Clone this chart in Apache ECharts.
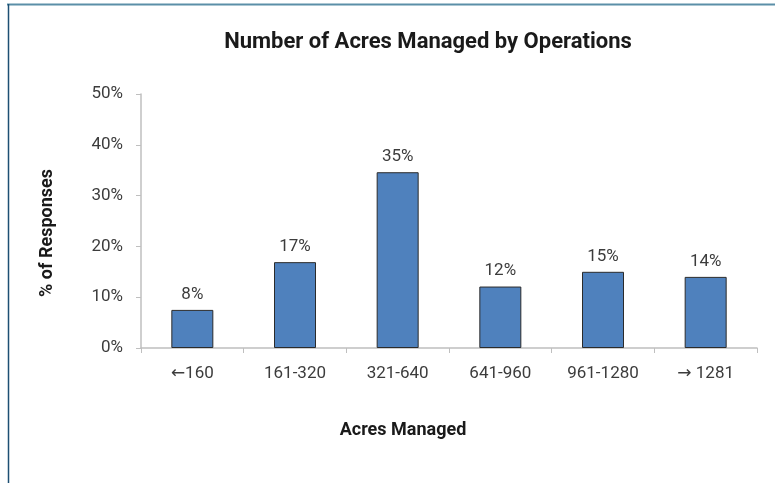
<!DOCTYPE html>
<html>
<head>
    <meta charset="utf-8" />
    <title></title>
    <script type="text/javascript" src="https://cdn.jsdelivr.net/npm/echarts@6/dist/echarts.min.js"></script>
    <style>
        html, body { margin: 0; padding: 0; background: #fff; }
        #con1 { width: 775px; height: 483px; }
    </style>
</head>
<body>
    <div id="con1"></div>
    <script type="text/javascript">
        // data
        var categories = ['\u2190160', '161-320', '321-640', '641-960', '961-1280', '\u2192 1281'];
        var responses = [7.5, 16.9, 34.6, 12.1, 15.0, 14.0];
        var yTicks = [0, 10, 20, 30, 40, 50];

        var myChart1 = echarts.init(document.getElementById('con1'));
        var font = 'Roboto, "DejaVu Sans", sans-serif';
        var option1 = {
            backgroundColor: '#fff',
            animation: false,
            title: {
                text: 'Number of Acres Managed by Operations',
                left: 423,
                top: 26,
                textAlign: 'center',
                textStyle: { fontSize: 22, fontWeight: 'bold', color: '#1a1a1a', fontFamily: font }
            },
            grid: { left: 141, right: 18, top: 94, bottom: 135 },
            xAxis: {
                type: 'category',
                data: categories,
                axisLine: { lineStyle: { color: '#bfbfbf', width: 1.5 } },
                axisTick: { show: true, length: 5, lineStyle: { color: '#bfbfbf' } },
                axisLabel: { fontSize: 17, color: '#3c3c3c', margin: 17, fontFamily: font }
            },
            yAxis: {
                type: 'value',
                min: yTicks[0],
                max: yTicks[yTicks.length - 1],
                interval: 10,
                axisLine: { show: true, lineStyle: { color: '#bfbfbf', width: 1.5 } },
                axisTick: { show: true, length: 5, lineStyle: { color: '#bfbfbf' } },
                splitLine: { show: false },
                axisLabel: { fontSize: 17, color: '#3c3c3c', margin: 18, fontFamily: font, formatter: '{value}%' }
            },
            series: [{
                type: 'bar',
                data: responses,
                barWidth: 42,
                itemStyle: { color: '#4f81bd', borderColor: '#2b2b2b', borderWidth: 1 },
                label: {
                    show: true,
                    position: 'top',
                    distance: 7,
                    fontSize: 17,
                    color: '#3c3c3c',
                    fontFamily: font,
                    formatter: function (p) { return Math.round(p.value) + '%'; }
                }
            }],
            graphic: [
                { type: 'line', shape: { x1: 7, y1: 4.5, x2: 775, y2: 4.5 }, style: { stroke: '#5b8fa8', lineWidth: 2 } },
                { type: 'line', shape: { x1: 8.5, y1: 4, x2: 8.5, y2: 483 }, style: { stroke: '#1d4f73', lineWidth: 1.5 } },
                {
                    type: 'text', x: 47, y: 233, rotation: Math.PI / 2,
                    style: { text: '% of Responses', font: 'bold 18px ' + font, fill: '#1a1a1a', textAlign: 'center', textVerticalAlign: 'middle' }
                },
                {
                    type: 'text', x: 403, y: 430,
                    style: { text: 'Acres Managed', font: 'bold 18px ' + font, fill: '#1a1a1a', textAlign: 'center', textVerticalAlign: 'middle' }
                }
            ]
        };
        option1 && myChart1.setOption(option1);
    </script>
</body>
</html>
